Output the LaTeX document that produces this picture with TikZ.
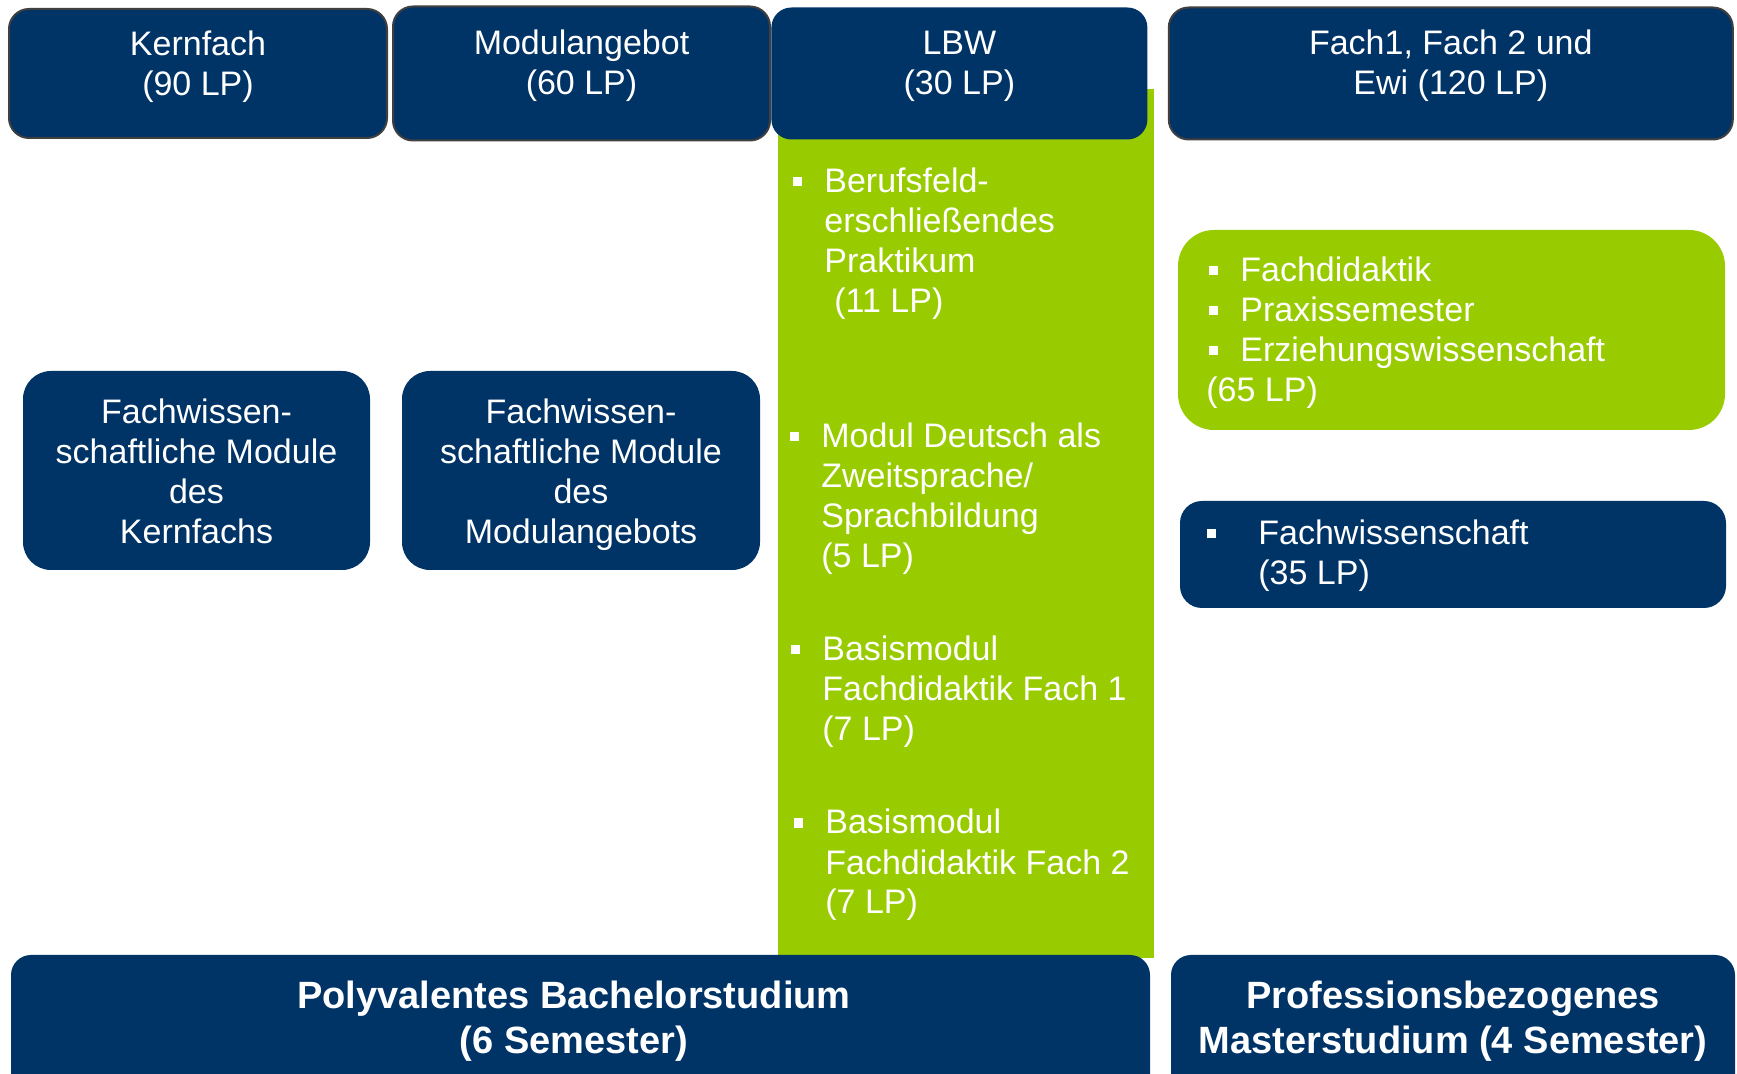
\documentclass[tikz,border=0pt]{standalone}
\usepackage{fontspec}
\setmainfont{Liberation Sans}
\usetikzlibrary{positioning}
\definecolor{uniblue}{RGB}{0,51,102}
\definecolor{unigreen}{RGB}{153,204,0}
\definecolor{uniframe}{RGB}{64,64,64}
\newcommand{\bul}{\llap{\rule[3.25pt]{4.5pt}{4.5pt}\hspace{11.25pt}}}
\newcommand{\bulwide}{\llap{\rule[3.25pt]{4.5pt}{4.5pt}\hspace{21.25pt}}}
\tikzset{
  box/.style={rectangle, rounded corners=10pt, fill=uniblue, inner sep=0pt},
  topbox/.style={box, draw=uniframe, line width=1pt},
  modbox/.style={box, rounded corners=14pt},
  txt/.style={text=white, font=\fontsize{17}{20}\selectfont, inner sep=0pt, align=center, anchor=base},
  itemtxt/.style={txt, align=left, anchor=base west},
  boldtxt/.style={txt, font=\fontsize{19}{22.5}\selectfont\bfseries},
}
\begin{document}
\begin{tikzpicture}[x=0.5pt, y=-0.5pt]
      \useasboundingbox (0,0) rectangle (1737,1074);
      \clip (0,0) rectangle (1737,1074);
      % green LBW column
      \node[fill=unigreen, inner sep=0pt, minimum width=188pt, minimum height=434.5pt] (lbwcol) at (966,523.5) {};
      % top row
      \node[topbox, minimum width=189pt, minimum height=64.5pt] (kern) at (198,73.5) {};
      \node[topbox, minimum width=188.5pt, minimum height=67pt, right=2pt of kern] (modul) {};
      \node[box, minimum width=188pt, minimum height=66pt, right=0pt of modul] (lbw) {};
      \node[topbox, minimum width=282pt, minimum height=66pt, right=10pt of lbw] (fach) {};
      % (base = last line)
      \node[txt] (kernT) at (kern |- 0,96) {Kernfach\\(90 LP)};
      \node[txt] (modulT) at (modul |- 0,95) {Modulangebot\\(60 LP)};
      \node[txt] (lbwT) at (lbw |- 0,95) {LBW\\(30 LP)};
      \node[txt] (fachT) at (fach |- 0,95) {Fach1, Fach 2 und\\Ewi (120 LP)};
      % bachelor modules
      \node[modbox, minimum width=173.5pt, minimum height=99.5pt] (fwk) at (196.5,470.5) {};
      \node[modbox, minimum width=179pt, minimum height=99.5pt] (fwm) at (581,470.5) {};
      \node[txt] (fwkT) at (fwk |- 0,544) {Fachwissen-\\schaftliche Module\\des\\Kernfachs};
      \node[txt] (fwmT) at (fwm |- 0,544) {Fachwissen-\\schaftliche Module\\des\\Modulangebots};
      % LBW items
      \node[itemtxt] (praktikum) at (824,313) {\bul Berufsfeld-\\erschließendes\\Praktikum\\\hspace*{5pt}(11 LP)};
      \node[itemtxt] (daz) at (821,568) {\bul Modul Deutsch als\\Zweitsprache/\\Sprachbildung\\(5 LP)};
      \node[itemtxt] (basis1) at (822,741) {\bul Basismodul\\Fachdidaktik Fach 1\\(7 LP)};
      \node[itemtxt] (basis2) at (825,914) {\bul Basismodul\\Fachdidaktik Fach 2\\(7 LP)};
      % master modules
      \node[box, fill=unigreen, rounded corners=18pt, minimum width=273.5pt, minimum height=100pt] (praxis) at (1451.5,330) {};
      \node[box, rounded corners=11pt, minimum width=273pt, minimum height=53.5pt] (fw) at (1453,554.5) {};
      \node[itemtxt] (praxisT) at (1240,402) {\bul Fachdidaktik\\\bul Praxissemester\\\bul Erziehungswissenschaft\\\hspace*{-17pt}(65 LP)};
      \node[itemtxt] (fwT) at (1258,585) {\bulwide Fachwissenschaft\\(35 LP)};
      % bottom row
      \node[box, minimum width=569.5pt, minimum height=72.5pt] (bachelor) at (580.5,1027.5) {};
      \node[box, minimum width=282pt, minimum height=72.5pt] (master) at (1453,1027.5) {};
      \node[boldtxt] (bachelorT) at (574,1053) {Polyvalentes Bachelorstudium\\(6 Semester)};
      \node[boldtxt] (masterT) at (master |- 0,1053) {Professionsbezogenes\\Masterstudium (4 Semester)};
\end{tikzpicture}
\end{document}
